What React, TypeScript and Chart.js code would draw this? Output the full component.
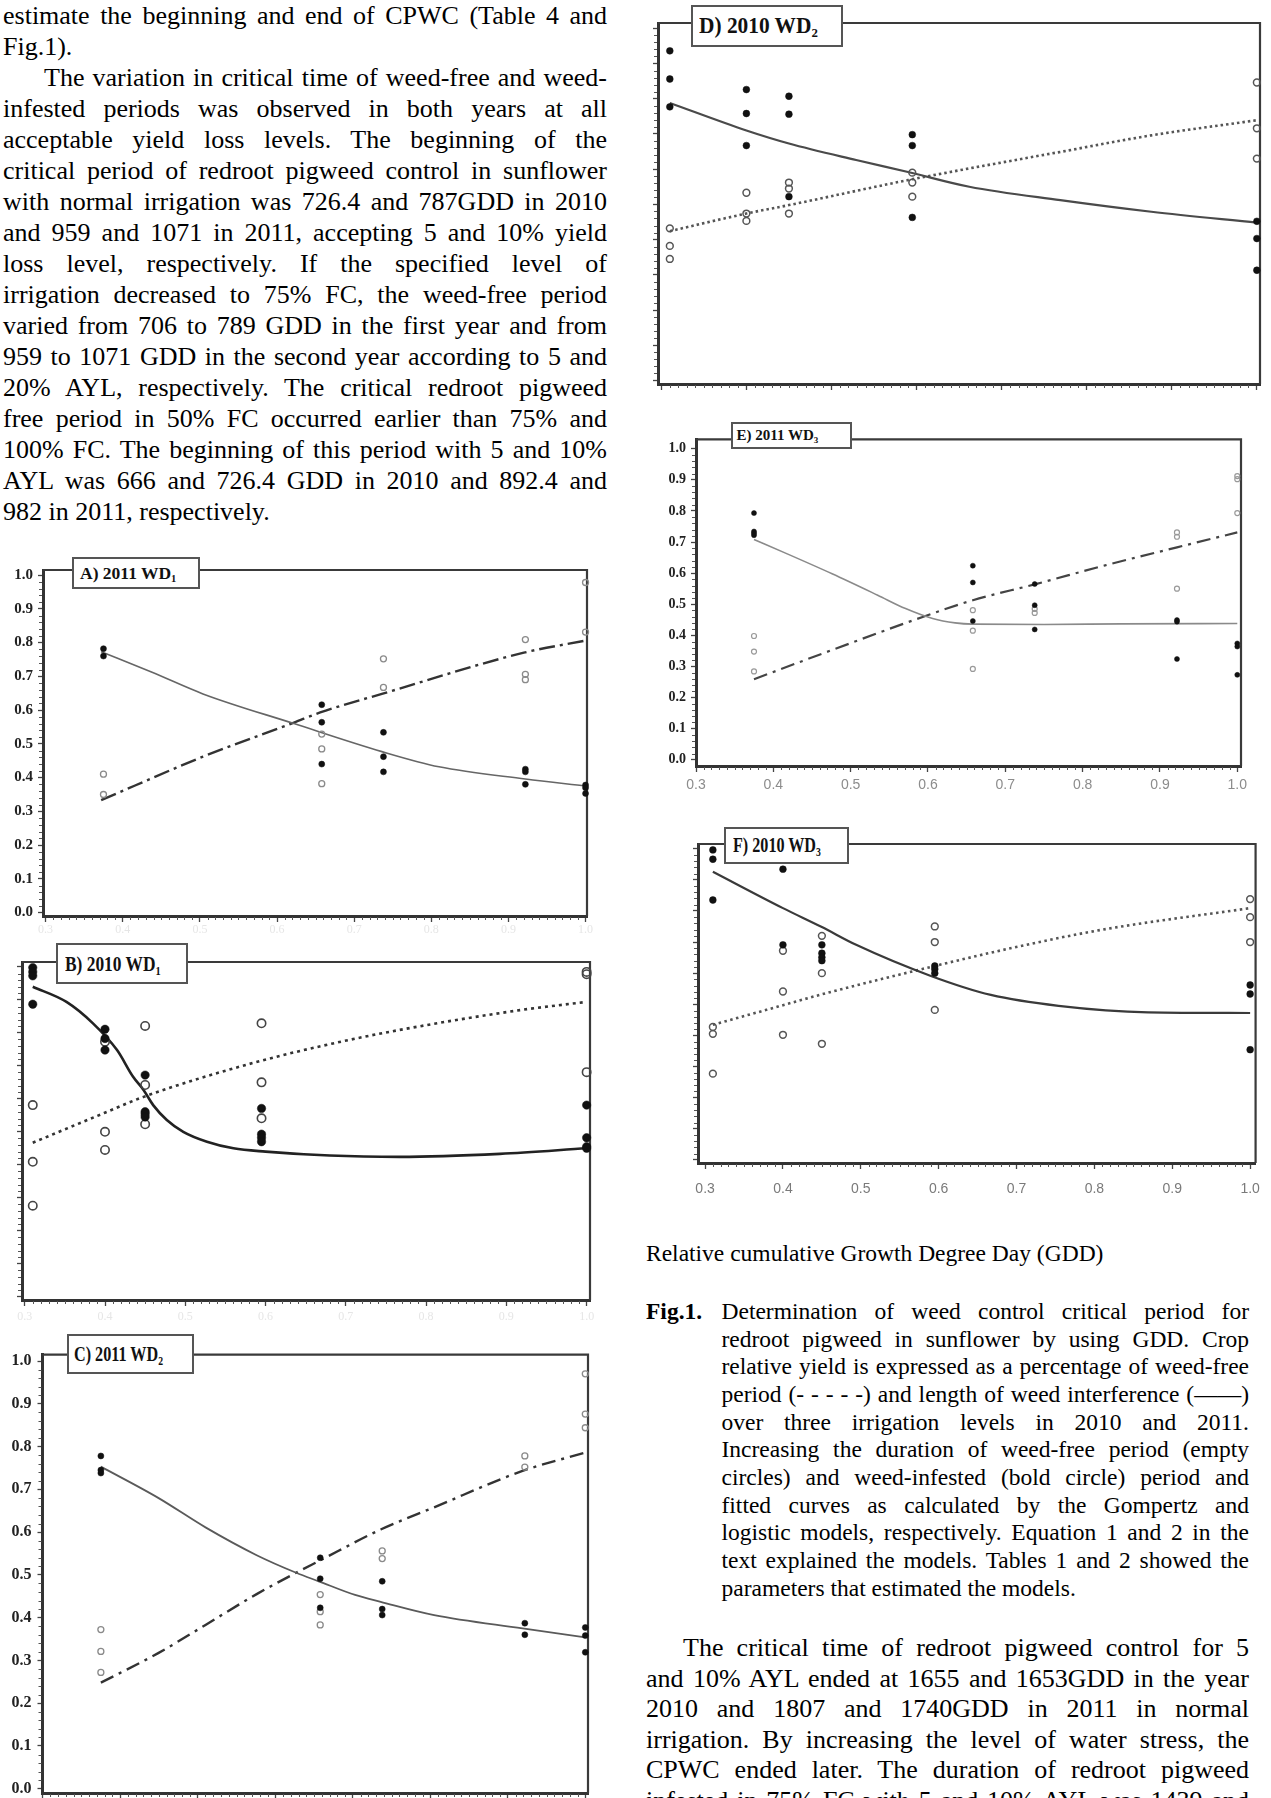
import React, { useEffect, useRef } from "react";
import { Chart, registerables } from "chart.js";

Chart.register(...registerables);

// ---------- axes ----------
const X_TICKS = [0.3, 0.4, 0.5, 0.6, 0.7, 0.8, 0.9, 1.0];
const Y_TICKS = [0, 0.1, 0.2, 0.3, 0.4, 0.5, 0.6, 0.7, 0.8, 0.9, 1.0];

// relative cumulative GDD of each sampling time
const X_2010 = [0.31, 0.4, 0.45, 0.595, 1.0];
const X_2011 = [0.375, 0.658, 0.738, 0.922, 1.0];

// ---------- A) 2011 WD1 ----------
const A_FREE_OBS = [[0.41, 0.35], [0.529, 0.485, 0.382], [0.752, 0.667], [0.809, 0.706, 0.69], [0.978, 0.831]];
const A_INF_OBS = [[0.782, 0.76], [0.616, 0.564, 0.44], [0.534, 0.462, 0.417], [0.425, 0.417, 0.38], [0.378, 0.37, 0.353]];
const A_FREE_FIT = [[0.372, 0.333], [0.504, 0.462], [0.622, 0.563], [0.656, 0.593], [0.736, 0.648], [0.92, 0.77], [1.0, 0.806]];
const A_INF_FIT = [[0.372, 0.773], [0.438, 0.712], [0.504, 0.648], [0.622, 0.56], [0.736, 0.477], [0.81, 0.432], [0.922, 0.396], [1.0, 0.375]];

// ---------- B) 2010 WD1 ----------
const B_FREE_OBS = [[0.581, 0.409, 0.276], [0.773, 0.5, 0.445], [0.821, 0.642, 0.523], [0.829, 0.65, 0.541], [0.985, 0.978, 0.681]];
const B_INF_OBS = [[0.998, 0.985, 0.973, 0.887], [0.811, 0.783, 0.748], [0.672, 0.561, 0.554, 0.545], [0.571, 0.493, 0.482, 0.47], [0.581, 0.482, 0.455, 0.45]];
const B_FREE_FIT = [[0.31, 0.467], [0.399, 0.557], [0.448, 0.606], [0.586, 0.71], [0.684, 0.768], [0.767, 0.809], [0.917, 0.869], [1.0, 0.894]];
const B_INF_FIT = [[0.31, 0.94], [0.352, 0.894], [0.385, 0.829], [0.415, 0.748], [0.435, 0.667], [0.448, 0.627], [0.46, 0.581], [0.477, 0.536], [0.4975, 0.5], [0.527, 0.47], [0.56, 0.45], [0.6, 0.44], [0.68, 0.428], [0.767, 0.424], [0.892, 0.433], [1.0, 0.45]];

// ---------- C) 2011 WD2 ----------
const C_FREE_OBS = [[0.372, 0.321, 0.272], [0.454, 0.414, 0.383], [0.556, 0.538], [0.778, 0.752], [0.97, 0.876, 0.844]];
const C_INF_OBS = [[0.778, 0.745, 0.738], [0.54, 0.491, 0.423], [0.485, 0.42, 0.406], [0.387, 0.36], [0.377, 0.358, 0.319]];
const C_FREE_FIT = [[0.375, 0.248], [0.449, 0.317], [0.51, 0.383], [0.576, 0.455], [0.627, 0.505], [0.656, 0.532], [0.736, 0.606], [0.805, 0.658], [0.919, 0.743], [1.0, 0.786]];
const C_INF_FIT = [[0.375, 0.753], [0.449, 0.68], [0.51, 0.611], [0.576, 0.546], [0.627, 0.505], [0.656, 0.485], [0.703, 0.453], [0.736, 0.437], [0.805, 0.406], [0.919, 0.375], [1.0, 0.354]];

// ---------- D) 2010 WD2 ----------
const D_FREE_OBS = [[0.432, 0.382, 0.345], [0.533, 0.474, 0.453], [0.562, 0.545, 0.474], [0.59, 0.562, 0.522], [0.846, 0.716, 0.63]];
const D_INF_OBS = [[0.936, 0.856, 0.777], [0.826, 0.758, 0.667], [0.807, 0.756, 0.522], [0.698, 0.667, 0.463], [0.452, 0.403, 0.313]];
const D_FREE_FIT = [[0.31, 0.424], [0.4, 0.474], [0.45, 0.498], [0.59, 0.569], [0.662, 0.602], [0.769, 0.649], [0.876, 0.696], [1.0, 0.739]];
const D_INF_FIT = [[0.31, 0.788], [0.4, 0.71], [0.45, 0.673], [0.529, 0.626], [0.59, 0.592], [0.662, 0.55], [0.769, 0.512], [0.876, 0.479], [1.0, 0.448]];

// ---------- E) 2011 WD3 ----------
const E_FREE_OBS = [[0.398, 0.348, 0.284], [0.481, 0.415, 0.292], [0.485, 0.472], [0.731, 0.717, 0.55], [0.912, 0.902, 0.793]];
const E_INF_OBS = [[0.793, 0.734, 0.728, 0.722], [0.624, 0.57, 0.446], [0.565, 0.497, 0.419], [0.449, 0.444, 0.324], [0.374, 0.364, 0.273]];
const E_FREE_FIT = [[0.375, 0.259], [0.476, 0.353], [0.594, 0.46], [0.658, 0.513], [0.738, 0.564], [0.829, 0.625], [0.922, 0.683], [1.0, 0.731]];
const E_INF_FIT = [[0.375, 0.708], [0.418, 0.662], [0.476, 0.598], [0.535, 0.529], [0.571, 0.486], [0.606, 0.454], [0.635, 0.44], [0.658, 0.436], [0.75, 0.435], [0.85, 0.437], [1.0, 0.438]];

// ---------- F) 2010 WD3 ----------
const F_FREE_OBS = [[0.427, 0.405, 0.277], [0.672, 0.541, 0.402], [0.72, 0.6, 0.373], [0.75, 0.7, 0.482], [0.838, 0.78, 0.7]];
const F_INF_OBS = [[0.996, 0.966, 0.835], [0.934, 0.691], [0.691, 0.664, 0.651, 0.64], [0.623, 0.613, 0.6], [0.562, 0.533, 0.354]];
const F_FREE_FIT = [[0.31, 0.434], [0.4, 0.497], [0.45, 0.532], [0.59, 0.62], [0.696, 0.682], [0.811, 0.74], [1.0, 0.809]];
const F_INF_FIT = [[0.31, 0.926], [0.4, 0.809], [0.45, 0.748], [0.494, 0.691], [0.59, 0.591], [0.667, 0.53], [0.754, 0.495], [0.869, 0.474], [1.0, 0.472]];

// ---------- page text ----------
const PARA1_LINES = ["estimate the beginning and end of CPWC (Table 4 and", "Fig.1)."];
const PARA2_LINES = [
  "The variation in critical time of weed-free and weed-",
  "infested periods was observed in both years at all",
  "acceptable yield loss levels. The beginning of the",
  "critical period of redroot pigweed control in sunflower",
  "with normal irrigation was 726.4 and 787GDD in 2010",
  "and 959 and 1071 in 2011, accepting 5 and 10% yield",
  "loss level, respectively. If the specified level of",
  "irrigation decreased to 75% FC, the weed-free period",
  "varied from 706 to 789 GDD in the first year and from",
  "959 to 1071 GDD in the second year according to 5 and",
  "20% AYL, respectively. The critical redroot pigweed",
  "free period in 50% FC occurred earlier than 75% and",
  "100% FC. The beginning of this period with 5 and 10%",
  "AYL was 666 and 726.4 GDD in 2010 and 892.4 and",
  "982 in 2011, respectively.",
];
const AXIS_CAPTION = "Relative cumulative Growth Degree Day (GDD)";
const FIG_LABEL = "Fig.1.";
const CAPTION_LINES = [
  "Determination of weed control critical period for",
  "redroot pigweed in sunflower by using GDD. Crop",
  "relative yield is expressed as a percentage of weed-free",
  "period (- - - - -) and length of weed interference (\u2014\u2014)",
  "over three irrigation levels in 2010 and 2011.",
  "Increasing the duration of weed-free period (empty",
  "circles) and weed-infested (bold circle) period and",
  "fitted curves as calculated by the Gompertz and",
  "logistic models, respectively. Equation 1 and 2 in the",
  "text explained the models. Tables 1 and 2 showed the",
  "parameters that estimated the models.",
];
const BODY_RIGHT_LINES = [
  "The critical time of redroot pigweed control for 5",
  "and 10% AYL ended at 1655 and 1653GDD in the year",
  "2010 and 1807 and 1740GDD in 2011 in normal",
  "irrigation. By increasing the level of water stress, the",
  "CPWC ended later. The duration of redroot pigweed",
  "infested in 75% FC with 5 and 10% AYL was 1439 and",
];

// ---------- panel definitions ----------
type LineStyle = { color: string; width: number; dash: number[] };
type Panel = {
  key: string;
  plot: { left: number; top: number; right: number; bottom: number };
  xRange: [number, number];
  yRange: [number, number];
  yAxisW: number;
  xAxisH: number;
  yLabels: { size: number; padding: number } | null;
  xLabels: { color: string; size: number; padding: number; family: string } | null;
  xs: number[];
  freeObs: number[][];
  infObs: number[][];
  freeFit: number[][];
  infFit: number[][];
  freeLine: LineStyle;
  infLine: LineStyle;
  pointR: number;
  openColor: string;
  openWidth: number;
  title: { left: number; top: number; width: number; height: number; text: string; sub: string; size: number; scaleX: number; padLeft: number };
};

const PAD_TOP = 12;
const PAD_RIGHT = 14;
const SERIF = '"Liberation Serif", "Times New Roman", serif';
const SANS = '"Liberation Sans", Arial, sans-serif';
const FAINT = { color: "#e6e6e6", size: 12, padding: 1, family: SERIF };

const PANELS: Panel[] = [
  {
    key: "A",
    plot: { left: 43, top: 568, right: 587, bottom: 916 },
    xRange: [0.2966, 1.0019],
    yRange: [-0.01, 1.015],
    yAxisW: 43,
    xAxisH: 30,
    yLabels: { size: 15, padding: 5 },
    xLabels: FAINT,
    xs: X_2011,
    freeObs: A_FREE_OBS,
    infObs: A_INF_OBS,
    freeFit: A_FREE_FIT,
    infFit: A_INF_FIT,
    freeLine: { color: "#333", width: 2.4, dash: [16, 5, 3, 5] },
    infLine: { color: "#666", width: 1.6, dash: [] },
    pointR: 3,
    openColor: "#8a8a8a",
    openWidth: 1.3,
    title: { left: 72, top: 557, width: 128, height: 32, text: "A) 2011 WD", sub: "1", size: 17.5, scaleX: 1, padLeft: 6 },
  },
  {
    key: "B",
    plot: { left: 22, top: 962, right: 590, bottom: 1300 },
    xRange: [0.2966, 1.0042],
    yRange: [-0.01, 1.015],
    yAxisW: 22,
    xAxisH: 25,
    yLabels: null,
    xLabels: { ...FAINT, padding: 4 },
    xs: X_2010,
    freeObs: B_FREE_OBS,
    infObs: B_INF_OBS,
    freeFit: B_FREE_FIT,
    infFit: B_INF_FIT,
    freeLine: { color: "#333", width: 2.6, dash: [3, 4] },
    infLine: { color: "#222", width: 2.6, dash: [] },
    pointR: 4.2,
    openColor: "#444",
    openWidth: 1.6,
    title: { left: 56, top: 943, width: 132, height: 41, text: "B) 2010 WD", sub: "1", size: 22, scaleX: 0.79, padLeft: 7 },
  },
  {
    key: "C",
    plot: { left: 42.5, top: 1351, right: 587.7, bottom: 1792.6 },
    xRange: [0.2997, 1.0035],
    yRange: [-0.01, 1.015],
    yAxisW: 42.5,
    xAxisH: 25,
    yLabels: { size: 16, padding: 6 },
    xLabels: FAINT,
    xs: X_2011,
    freeObs: C_FREE_OBS,
    infObs: C_INF_OBS,
    freeFit: C_FREE_FIT,
    infFit: C_INF_FIT,
    freeLine: { color: "#333", width: 2.4, dash: [14, 6, 3, 6] },
    infLine: { color: "#5a5a5a", width: 1.8, dash: [] },
    pointR: 3,
    openColor: "#8a8a8a",
    openWidth: 1.3,
    title: { left: 67, top: 1334, width: 127, height: 40, text: "C) 2011 WD", sub: "2", size: 21, scaleX: 0.77, padLeft: 5 },
  },
  {
    key: "D",
    plot: { left: 657.7, top: 22.7, right: 1260, bottom: 384 },
    xRange: [0.2961, 1.0037],
    yRange: [-0.01, 1.015],
    yAxisW: 24,
    xAxisH: 12,
    yLabels: null,
    xLabels: null,
    xs: X_2010,
    freeObs: D_FREE_OBS,
    infObs: D_INF_OBS,
    freeFit: D_FREE_FIT,
    infFit: D_INF_FIT,
    freeLine: { color: "#555", width: 2.6, dash: [2.5, 3] },
    infLine: { color: "#4a4a4a", width: 2.2, dash: [] },
    pointR: 3.4,
    openColor: "#555",
    openWidth: 1.5,
    title: { left: 691, top: 5, width: 152, height: 42, text: "D) 2010 WD", sub: "2", size: 22.5, scaleX: 0.95, padLeft: 6 },
  },
  {
    key: "E",
    plot: { left: 696.4, top: 438.3, right: 1241, bottom: 766.7 },
    xRange: [0.3, 1.0048],
    yRange: [-0.02, 1.03],
    yAxisW: 40,
    xAxisH: 30,
    yLabels: { size: 14, padding: 5 },
    xLabels: { color: "#8c8c8c", size: 14, padding: 5, family: SANS },
    xs: X_2011,
    freeObs: E_FREE_OBS,
    infObs: E_INF_OBS,
    freeFit: E_FREE_FIT,
    infFit: E_INF_FIT,
    freeLine: { color: "#444", width: 2.2, dash: [14, 6, 3, 6] },
    infLine: { color: "#8a8a8a", width: 1.6, dash: [] },
    pointR: 2.5,
    openColor: "#999",
    openWidth: 1.2,
    title: { left: 731, top: 422, width: 121, height: 27, text: "E) 2011 WD", sub: "3", size: 15, scaleX: 1, padLeft: 3.5 },
  },
  {
    key: "F",
    plot: { left: 698.3, top: 844, right: 1258, bottom: 1163.3 },
    xRange: [0.2909, 1.007],
    yRange: [-0.01, 1.015],
    yAxisW: 24,
    xAxisH: 40,
    yLabels: null,
    xLabels: { color: "#7a7a7a", size: 14, padding: 12, family: SANS },
    xs: X_2010,
    freeObs: F_FREE_OBS,
    infObs: F_INF_OBS,
    freeFit: F_FREE_FIT,
    infFit: F_INF_FIT,
    freeLine: { color: "#555", width: 2.6, dash: [2.5, 3.5] },
    infLine: { color: "#3a3a3a", width: 2.2, dash: [] },
    pointR: 3.4,
    openColor: "#555",
    openWidth: 1.5,
    title: { left: 724, top: 827, width: 125, height: 37, text: "F) 2010 WD", sub: "3", size: 21.5, scaleX: 0.75, padLeft: 6.5 },
  },
];

// minor ticks + top/right frame, drawn behind the data
const framePlugin = {
  id: "frameAndMinorTicks",
  beforeDatasetsDraw(chart: any) {
    const { ctx, chartArea: a, scales } = chart;
    const x = scales.x;
    const y = scales.y;
    ctx.save();
    ctx.strokeStyle = "#555";
    ctx.lineWidth = 1;
    ctx.beginPath();
    for (let i = 30; i <= 100; i++) {
      if (i % 10 === 0) continue;
      const px = Math.round(x.getPixelForValue(i / 100)) + 0.5;
      ctx.moveTo(px, a.bottom + 1);
      ctx.lineTo(px, a.bottom + 4);
    }
    for (let j = 0; j <= 50; j++) {
      if (j % 5 === 0) continue;
      const py = Math.round(y.getPixelForValue(j / 50)) + 0.5;
      ctx.moveTo(a.left - 1, py);
      ctx.lineTo(a.left - 4, py);
    }
    ctx.stroke();
    ctx.strokeStyle = "#3a3a3a";
    ctx.lineWidth = 2.2;
    ctx.beginPath();
    ctx.moveTo(a.left, a.top);
    ctx.lineTo(a.right, a.top);
    ctx.lineTo(a.right, a.bottom);
    ctx.stroke();
    ctx.restore();
  },
};

function buildConfig(p: Panel): any {
  const pts = (obs: number[][]) => p.xs.flatMap((x, i) => obs[i].map((y) => ({ x, y })));
  const fit = (arr: number[][]) => arr.map(([x, y]) => ({ x, y }));
  const axisColor = "#333";
  return {
    type: "scatter",
    data: {
      datasets: [
        {
          type: "line",
          label: "Weed-free period (fitted)",
          data: fit(p.freeFit),
          borderColor: p.freeLine.color,
          borderWidth: p.freeLine.width,
          borderDash: p.freeLine.dash,
          borderCapStyle: "butt",
          pointRadius: 0,
          cubicInterpolationMode: "monotone",
          fill: false,
          order: 3,
          clip: false,
        },
        {
          type: "line",
          label: "Weed-infested period (fitted)",
          data: fit(p.infFit),
          borderColor: p.infLine.color,
          borderWidth: p.infLine.width,
          borderDash: p.infLine.dash,
          pointRadius: 0,
          cubicInterpolationMode: "monotone",
          fill: false,
          order: 2,
          clip: false,
        },
        {
          type: "scatter",
          label: "Weed-free period",
          data: pts(p.freeObs),
          pointRadius: p.pointR,
          pointBackgroundColor: "rgba(255,255,255,0)",
          pointBorderColor: p.openColor,
          pointBorderWidth: p.openWidth,
          order: 1,
          clip: false,
        },
        {
          type: "scatter",
          label: "Weed-infested period",
          data: pts(p.infObs),
          pointRadius: p.pointR,
          pointBackgroundColor: "#111",
          pointBorderColor: "#111",
          pointBorderWidth: 0.5,
          order: 0,
          clip: false,
        },
      ],
    },
    options: {
      animation: false,
      responsive: false,
      events: [],
      layout: { padding: { top: PAD_TOP, right: PAD_RIGHT, left: 0, bottom: 0 } },
      plugins: { legend: { display: false }, tooltip: { enabled: false }, title: { display: false } },
      scales: {
        x: {
          type: "linear",
          position: "bottom",
          min: p.xRange[0],
          max: p.xRange[1],
          afterBuildTicks: (ax: any) => {
            ax.ticks = X_TICKS.map((value) => ({ value }));
          },
          afterFit: (ax: any) => {
            ax.height = p.xAxisH;
          },
          ticks: {
            display: !!p.xLabels,
            autoSkip: false,
            maxRotation: 0,
            color: p.xLabels ? p.xLabels.color : "#000",
            padding: p.xLabels ? p.xLabels.padding : 0,
            font: { family: p.xLabels ? p.xLabels.family : SERIF, size: p.xLabels ? p.xLabels.size : 12 },
            callback: (v: any) => Number(v).toFixed(1),
          },
          grid: { drawOnChartArea: false, drawTicks: true, tickLength: 6, tickColor: "#444", tickWidth: 1.3, color: "#444" },
          border: { display: true, width: 3, color: axisColor },
        },
        y: {
          type: "linear",
          position: "left",
          min: p.yRange[0],
          max: p.yRange[1],
          afterBuildTicks: (ax: any) => {
            ax.ticks = Y_TICKS.map((value) => ({ value }));
          },
          afterFit: (ax: any) => {
            ax.width = p.yAxisW;
          },
          ticks: {
            display: !!p.yLabels,
            color: "#222",
            padding: p.yLabels ? p.yLabels.padding : 0,
            font: { family: SERIF, size: p.yLabels ? p.yLabels.size : 12, weight: "bold" },
            callback: (v: any) => Number(v).toFixed(1),
          },
          grid: { drawOnChartArea: false, drawTicks: true, tickLength: 5, tickColor: "#444", tickWidth: 1.3, color: "#444" },
          border: { display: true, width: 3, color: axisColor },
        },
      },
    },
    plugins: [framePlugin],
  };
}

function ChartPanel({ p }: { p: Panel }) {
  const ref = useRef<HTMLCanvasElement | null>(null);
  const cw = Math.round(p.plot.right - p.plot.left + p.yAxisW + PAD_RIGHT);
  const ch = Math.round(p.plot.bottom - p.plot.top + PAD_TOP + p.xAxisH);
  useEffect(() => {
    if (!ref.current) return;
    const chart = new Chart(ref.current, buildConfig(p));
    return () => chart.destroy();
  }, []);
  const t = p.title;
  return (
    <>
      <canvas
        ref={ref}
        width={cw}
        height={ch}
        style={{ position: "absolute", left: p.plot.left - p.yAxisW, top: p.plot.top - PAD_TOP, width: cw, height: ch }}
      />
      <div
        style={{
          position: "absolute",
          left: t.left,
          top: t.top,
          width: t.width,
          height: t.height,
          boxSizing: "border-box",
          border: "2px solid #555",
          background: "#fff",
          fontFamily: SERIF,
          fontWeight: "bold",
          fontSize: t.size,
          lineHeight: `${t.height - 4}px`,
          paddingLeft: t.padLeft,
          whiteSpace: "nowrap",
          color: "#111",
          overflow: "hidden",
        }}
      >
        <span style={{ display: "inline-block", transform: `scaleX(${t.scaleX})`, transformOrigin: "left center" }}>
          {t.text}
          <sub style={{ fontSize: "0.6em", verticalAlign: "-0.3em", lineHeight: 0 }}>{t.sub}</sub>
        </span>
      </div>
    </>
  );
}

function Lines({ lines, indent, lastLeft }: { lines: string[]; indent: number; lastLeft: boolean }) {
  return (
    <>
      {lines.map((l, i) => {
        const isLast = i === lines.length - 1 && lastLeft;
        return (
          <div
            key={i}
            style={{
              textAlign: isLast ? "left" : "justify",
              textAlignLast: isLast ? "left" : "justify",
              textIndent: i === 0 ? indent : 0,
            } as any}
          >
            {l}
          </div>
        );
      })}
    </>
  );
}

export default function App() {
  return (
    <div
      style={{
        position: "absolute",
        left: 0,
        top: 0,
        width: 1271,
        height: 1798,
        overflow: "hidden",
        background: "#fff",
        color: "#000",
        fontFamily: SERIF,
      }}
    >
      {/* left column text */}
      <div style={{ position: "absolute", left: 3, top: 0, width: 604, fontSize: 26, lineHeight: "31px" }}>
        <Lines lines={PARA1_LINES} indent={0} lastLeft={true} />
        <Lines lines={PARA2_LINES} indent={41} lastLeft={true} />
      </div>

      {PANELS.map((p) => (
        <ChartPanel key={p.key} p={p} />
      ))}

      {/* right column: axis caption, figure caption and body */}
      <div style={{ position: "absolute", left: 646, top: 1240, fontSize: 23.5, lineHeight: "27.67px", whiteSpace: "nowrap" }}>
        {AXIS_CAPTION}
      </div>
      <div style={{ position: "absolute", left: 646, top: 1298, fontSize: 23.5, lineHeight: "27.67px", fontWeight: "bold" }}>
        {FIG_LABEL}
      </div>
      <div style={{ position: "absolute", left: 721.5, top: 1298, width: 527.5, fontSize: 23.5, lineHeight: "27.67px" }}>
        <Lines lines={CAPTION_LINES} indent={0} lastLeft={true} />
      </div>
      <div style={{ position: "absolute", left: 646, top: 1633, width: 603, fontSize: 26, lineHeight: "30.5px" }}>
        <Lines lines={BODY_RIGHT_LINES} indent={37} lastLeft={false} />
      </div>
    </div>
  );
}
